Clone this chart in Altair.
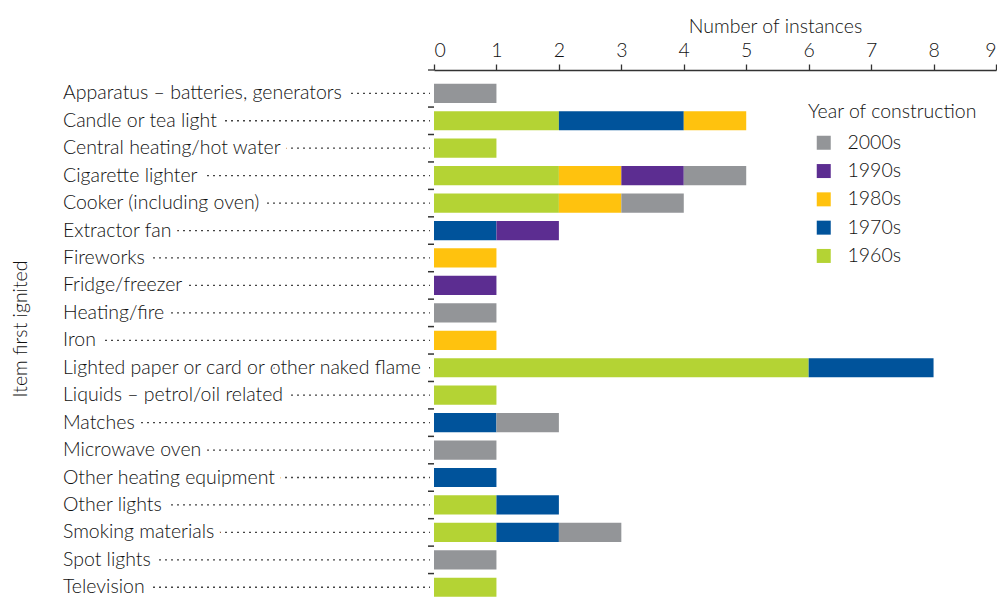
import altair as alt
import pandas as pd

items = [
    "Apparatus – batteries, generators",
    "Candle or tea light",
    "Central heating/hot water",
    "Cigarette lighter",
    "Cooker (including oven)",
    "Extractor fan",
    "Fireworks",
    "Fridge/freezer",
    "Heating/fire",
    "Iron",
    "Lighted paper or card or other naked flame",
    "Liquids – petrol/oil related",
    "Matches",
    "Microwave oven",
    "Other heating equipment",
    "Other lights",
    "Smoking materials",
    "Spot lights",
    "Television",
]
decades = ["1960s", "1970s", "1980s", "1990s", "2000s"]
s1960 = [0, 2, 1, 2, 2, 0, 0, 0, 0, 0, 6, 1, 0, 0, 0, 1, 1, 0, 1]
s1970 = [0, 2, 0, 0, 0, 1, 0, 0, 0, 0, 2, 0, 1, 0, 1, 1, 1, 0, 0]
s1980 = [0, 1, 0, 1, 1, 0, 1, 0, 0, 1, 0, 0, 0, 0, 0, 0, 0, 0, 0]
s1990 = [0, 0, 0, 1, 0, 1, 0, 1, 0, 0, 0, 0, 0, 0, 0, 0, 0, 0, 0]
s2000 = [1, 0, 0, 1, 1, 0, 0, 0, 1, 0, 0, 0, 1, 1, 0, 0, 1, 1, 0]
legend_order = ["2000s", "1990s", "1980s", "1970s", "1960s"]
colors = ["#939598", "#5C2D91", "#FFC20E", "#00539B", "#B4D334"]
x_ticks = [0, 1, 2, 3, 4, 5, 6, 7, 8, 9]

series = [s1960, s1970, s1980, s1990, s2000]
rows = []
for rank, (dec, vals) in enumerate(zip(decades, series)):
    for it, v in zip(items, vals):
        if v > 0:
            rows.append({"item": it, "decade": dec, "count": v, "rank": rank})
bars_df = pd.DataFrame(rows)
items_df = pd.DataFrame({"item": items})
tick_df = pd.DataFrame({"item": items[1:]})

FONT = "Lato"
TXT = "#111111"
FS = 19.5
FW = 300
LABEL_X = 63 - 434

yscale = alt.Scale(domain=items, paddingInner=0.3, paddingOuter=0.5)
y_enc = alt.Y("item:N", sort=items, scale=yscale, axis=None)

leaders = alt.Chart(items_df).mark_rule(
    color="#444", strokeWidth=1.3, strokeDash=[2, 4]
).encode(y=y_enc, x=alt.value(LABEL_X), x2=alt.value(-4))

halo = alt.Chart(items_df).mark_text(
    align="left", baseline="middle", font=FONT, fontSize=FS, fontWeight=FW,
    fill="white", stroke="white", strokeWidth=14, strokeJoin="round"
).encode(y=y_enc, x=alt.value(LABEL_X), text="item:N")

labels = alt.Chart(items_df).mark_text(
    align="left", baseline="middle", font=FONT, fontSize=FS, fontWeight=FW,
    color=TXT
).encode(y=y_enc, x=alt.value(LABEL_X), text="item:N")

bars = alt.Chart(bars_df).mark_bar().encode(
    y=alt.Y("item:N", sort=items, scale=yscale,
            axis=alt.Axis(labels=False, ticks=False, title=None, domain=True,
                          domainColor="#333", domainWidth=1.5)),
    x=alt.X("count:Q", stack="zero",
            scale=alt.Scale(domain=[0, 9], nice=False),
            axis=alt.Axis(orient="top", values=x_ticks, format="d",
                          title="Number of instances", grid=False,
                          domainColor="#333", domainWidth=1.3,
                          tickColor="#333", tickSize=6, tickWidth=1.3,
                          labelFont=FONT, labelFontSize=FS, labelFontWeight=FW,
                          labelColor=TXT, labelBaseline="alphabetic",
                          labelPadding=7,
                          titleFont=FONT, titleFontSize=FS, titleFontWeight=FW,
                          titleColor=TXT, titleX=341, titleY=-37,
                          titleAlign="center", titleBaseline="alphabetic")),
    color=alt.Color("decade:N",
                    scale=alt.Scale(domain=legend_order, range=colors),
                    legend=alt.Legend(orient="none", legendX=380, legendY=63,
                                      title=None, symbolType="square",
                                      symbolSize=196, symbolStrokeWidth=0,
                                      labelFont=FONT, labelFontSize=FS,
                                      labelFontWeight=FW, labelColor=TXT,
                                      labelOffset=14, rowPadding=7.3)),
    order=alt.Order("rank:Q", sort="ascending"),
)

ticks = alt.Chart(tick_df).mark_rule(color="#333", strokeWidth=1.5, yOffset=-4.1).encode(
    y=alt.Y("item:N", sort=items, scale=yscale, axis=None, bandPosition=0),
    x=alt.value(-6), x2=alt.value(0),
)

ytitle = alt.Chart(pd.DataFrame({"t": ["Item first ignited"]})).mark_text(
    angle=270, align="center", baseline="middle", font=FONT, fontSize=FS,
    fontWeight=FW, color=TXT
).encode(text="t:N", x=alt.value(-413), y=alt.value(259))

legtitle = alt.Chart(pd.DataFrame({"t": ["Year of construction"]})).mark_text(
    align="left", baseline="alphabetic", font=FONT, fontSize=FS,
    fontWeight=FW, color=TXT
).encode(text="t:N", x=alt.value(374), y=alt.value(48))

xext = alt.Chart(pd.DataFrame({"t": [0]})).mark_rule(color="#333", strokeWidth=1.3).encode(
    x=alt.value(-6), x2=alt.value(0), y=alt.value(0)
)

chart = alt.layer(leaders, halo, labels, bars, ticks, ytitle, legtitle, xext).properties(
    width=562, height=540.6,
    padding={"left": 3, "top": 9, "right": 0, "bottom": 0},
).configure_view(stroke=None)

chart.save("out.html", embed_options={"renderer": "svg", "actions": False})
